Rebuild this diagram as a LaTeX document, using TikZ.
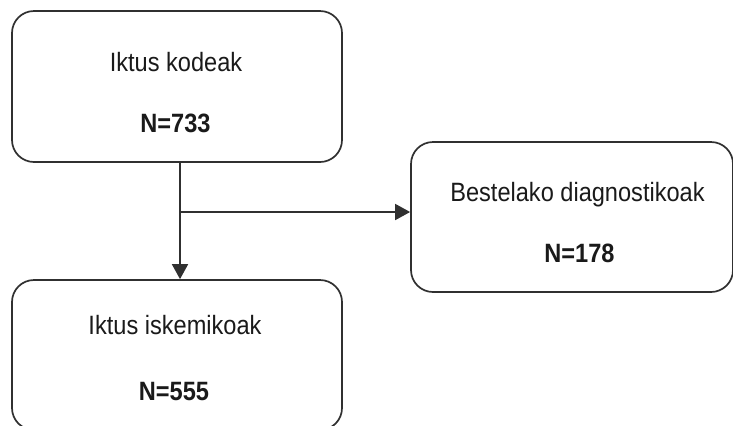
\documentclass[tikz,border=0pt]{standalone}
\usepackage{fontspec}
\setmainfont[FakeStretch=0.89]{Liberation Sans}
\usetikzlibrary{arrows.meta}
\definecolor{linecol}{HTML}{303030}
\definecolor{txtcol}{HTML}{1A1A1A}
\tikzset{
  box/.style={draw=linecol, line width=1.7bp, rounded corners=22bp, inner sep=0pt},
  title/.style={anchor=base, inner sep=0pt, text=txtcol, font=\fontsize{26.5bp}{30bp}\selectfont},
  count/.style={anchor=base, inner sep=0pt, text=txtcol, font=\fontsize{26.5bp}{30bp}\selectfont\bfseries},
  conn/.style={draw=linecol, line width=1.7bp, -{Triangle[length=15bp,width=16bp]}}
}
\begin{document}
\begin{tikzpicture}[x=1bp,y=-1bp]
\useasboundingbox (0,0) rectangle (733,425);
\node[box, minimum width=330bp, minimum height=151bp] (b1) at (177,86.5) {};
\node[box, minimum width=322bp, minimum height=150bp] (b2) at (572,217) {};
\node[box, minimum width=330bp, minimum height=150bp] (b3) at (177,355) {};
\node[title] (t1) at (176,71) {Iktus kodeak};
\node[count] (n1) at (175.5,132) {N=733};
\node[title] (t2) at (577.5,201) {Bestelako diagnostikoak};
\node[count] (n2) at (579.5,262) {N=178};
\node[title] (t3) at (175,334) {Iktus iskemikoak};
\node[count] (n3) at (174,400) {N=555};
\coordinate (split) at (180,212);
\draw[conn] (b1.south -| split) -- (b3.north -| split);
\draw[conn] (split) -- (split -| b2.west);
\end{tikzpicture}
\end{document}
